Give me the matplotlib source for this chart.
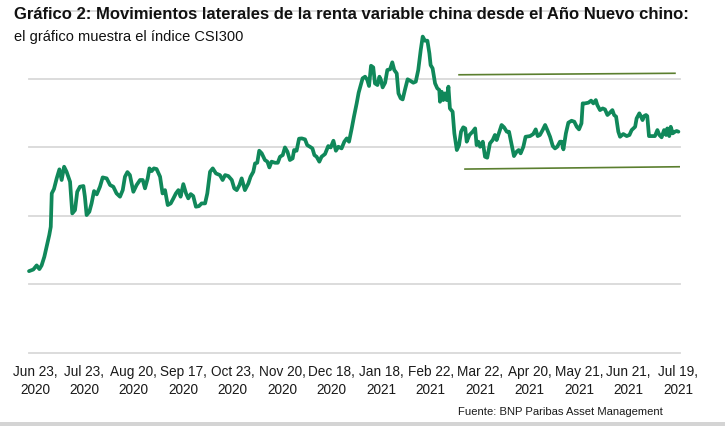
import matplotlib
matplotlib.use("Agg")
import matplotlib.pyplot as plt
from matplotlib.patches import Rectangle

# ---------------- data ----------------
# x: trading-day index since start of series, y: CSI300 level
day_idx = [0.0, 1.75, 3.1, 4.2, 5.1, 6.2, 7.1, 8.2, 8.8, 9.2, 10.1, 11.2, 12.3, 13.2, 14.2,
           15.2, 16.6, 17.5, 18.6, 19.5, 20.6, 22.0, 22.6, 23.3, 24.4, 25.3, 26.3, 27.4, 28.7,
           29.8, 31.4, 32.8, 34.1, 35.4, 36.8, 37.9, 38.8, 39.8, 40.8, 42.2, 43.5, 44.9, 46.0,
           46.9, 48.0, 48.7, 49.6, 50.5, 51.6, 53.0, 54.0, 55.0, 56.1, 57.3, 58.4, 59.4, 60.4,
           61.3, 62.4, 63.5, 64.4, 65.4, 66.4, 67.5, 68.7, 69.8, 71.2, 72.1, 73.2, 74.3, 75.6,
           77.2, 78.3, 79.3, 80.6, 82.0, 83.0, 84.0, 85.1, 86.0, 87.3, 88.7, 89.6, 90.7, 91.4,
           92.3, 93.1, 94.1, 95.4, 96.4, 97.2, 98.1, 99.5, 100.6, 101.5, 102.6, 103.5, 104.5,
           105.5, 106.6, 107.2, 108.2, 109.2, 110.3, 111.6, 112.5, 113.6, 114.6, 115.4, 116.3,
           117.4, 118.3, 119.7, 121.0, 122.0, 123.1, 124.1, 125.1, 126.4, 127.5, 128.5, 129.4,
           130.5, 131.4, 132.5, 133.3, 134.9, 135.9, 136.8, 137.5, 138.3, 139.2, 139.9, 140.9,
           141.7, 142.3, 143.0, 144.0, 144.9, 146.0, 146.9, 147.7, 148.7, 149.4, 150.3, 151.1,
           152.0, 153.1, 154.1, 155.4, 156.4, 157.4, 158.4, 159.2, 160.1, 161.1, 161.9, 162.4,
           163.2, 164.2, 165.1, 165.9, 166.2, 166.9, 167.5, 168.2, 168.9, 169.6, 170.2, 171.3,
           172.0, 173.0, 173.9, 174.7, 175.6, 176.4, 177.0, 178.1, 179.4, 180.4, 181.0, 181.7,
           182.4, 183.5, 184.4, 185.3, 186.4, 187.5, 188.4, 189.1, 190.2, 191.1, 192.1, 193.2,
           194.1, 195.2, 196.1, 197.2, 198.0, 198.8, 199.9, 200.8, 202.6, 203.9, 204.9, 205.7,
           206.6, 207.7, 208.7, 209.6, 210.7, 211.8, 212.7, 213.6, 214.7, 215.4, 216.1, 217.1,
           218.1, 219.4, 220.5, 221.5, 222.4, 223.4, 223.9, 224.8, 226.2, 227.3, 228.2, 229.2,
           229.8, 230.9, 232.0, 232.9, 233.9, 234.9, 235.9, 236.6, 237.4, 238.3, 239.0, 240.3,
           241.7, 242.8, 243.7, 245.1, 245.7, 246.8, 247.5, 248.1, 248.7, 249.5, 250.0, 250.7,
           251.8, 253.1, 254.1, 254.9, 255.8, 256.8, 257.6, 258.1, 258.9, 259.5, 260.3, 261.2,
           261.9, 262.6]
csi300 = [4096, 4108, 4138, 4111, 4138, 4201, 4274, 4360, 4420, 4664, 4696, 4774, 4840, 4762, 4859,
          4822, 4749, 4518, 4542, 4676, 4713, 4718, 4640, 4506, 4530, 4591, 4681, 4657, 4713,
          4781, 4774, 4725, 4713, 4664, 4640, 4688, 4786, 4820, 4798, 4676, 4725, 4762, 4762,
          4701, 4774, 4847, 4827, 4847, 4842, 4786, 4664, 4688, 4579, 4591, 4628, 4664, 4688,
          4640, 4732, 4664, 4628, 4659, 4645, 4567, 4571, 4591, 4591, 4664, 4822, 4847, 4810,
          4798, 4762, 4798, 4791, 4762, 4701, 4688, 4725, 4774, 4688, 4737, 4786, 4822, 4883,
          4888, 4976, 4957, 4908, 4896, 4854, 4896, 4888, 4888, 4932, 4944, 5000, 4969,
          4908, 4920, 4981, 4976, 5064, 5066, 5059, 5017, 5005, 4993, 4944, 4932,
          4896, 4932, 4952, 5010, 5000, 5049, 4976, 5005, 4993, 5042, 5066, 5042,
          5139, 5225, 5322, 5400, 5505, 5517, 5493, 5449, 5597, 5585, 5468, 5456,
          5517, 5493, 5439, 5473, 5566, 5571, 5622, 5566, 5541, 5395, 5359, 5351,
          5420, 5498, 5488, 5473, 5481, 5566, 5712, 5810, 5780, 5780, 5688, 5602,
          5578, 5468, 5432, 5420, 5334, 5407, 5346, 5395, 5346, 5444, 5285, 5261,
          5103, 4981, 5017, 5115, 5147, 5139, 5042, 5091, 5115, 5139, 5017, 5042,
          5005, 5042, 4932, 4925, 5030, 5054, 5091, 5054, 5115, 5164, 5147, 5115,
          5115, 5017, 4937, 4969, 4981, 4957, 5005, 5078, 5083, 5098, 5132, 5083,
          5091, 5127, 5164, 5127, 5078, 5010, 4993, 5005, 5042, 5042, 4986, 5103,
          5181, 5195, 5188, 5151, 5132, 5176, 5322, 5322, 5327, 5342, 5322, 5346,
          5310, 5273, 5285, 5278, 5237, 5254, 5273, 5237, 5225, 5115, 5078, 5098,
          5083, 5091, 5127, 5151, 5212, 5249, 5225, 5200, 5229, 5237, 5229, 5083,
          5083, 5083, 5127, 5091, 5074, 5127, 5091, 5139, 5083, 5151, 5103, 5115,
          5120, 5115]

# channel lines (start/end index, start/end level)
upper_x = [173.9, 261.2]
upper_y = [5531, 5542]
lower_x = [176.3, 263.6]
lower_y = [4842, 4859]

tick_pos = [2.4 + 20 * k for k in range(14)]
tick_labels = ["Jun 23,\n2020", "Jul 23,\n2020", "Aug 20,\n2020", "Sep 17,\n2020",
               "Oct 23,\n2020", "Nov 20,\n2020", "Dec 18,\n2020", "Jan 18,\n2021",
               "Feb 22,\n2021", "Mar 22,\n2021", "Apr 20,\n2021", "May 21,\n2021",
               "Jun 21,\n2021", "Jul 19,\n2021"]
grid_levels = [3500, 4000, 4500, 5000, 5500, 6000]

title = "Gráfico 2: Movimientos laterales de la renta variable china desde el Año Nuevo chino:"
subtitle = "el gráfico muestra el índice CSI300"
source = "Fuente: BNP Paribas Asset Management"

# ---------------- figure ----------------
FONT = ["Liberation Sans Narrow", "Liberation Sans", "DejaVu Sans"]
plt.rcParams["font.family"] = FONT

W, H = 725, 426
fig = plt.figure(figsize=(W / 100, H / 100), dpi=100)
fig.patch.set_facecolor("white")

left, right = 29, 680
bottom, top = 352.7, 10.6
ax = fig.add_axes([left / W, 1 - bottom / H, (right - left) / W, (bottom - top) / H])
ax.set_xlim(0, (right - left) / 2.473)
ax.set_ylim(3500, 6000)
ax.set_facecolor("none")
for s in ax.spines.values():
    s.set_visible(False)

for g in grid_levels:
    ax.axhline(g, color="#d9d9d9", lw=1.3, zorder=1, clip_on=False)

ax.plot(day_idx, csi300, color="#10885a", lw=2.7, solid_joinstyle="round",
        solid_capstyle="round", zorder=3, clip_on=False)
ax.plot(upper_x, upper_y, color="#5b7f2f", lw=1.2, zorder=2)
ax.plot(lower_x, lower_y, color="#5b7f2f", lw=1.2, zorder=2)

ax.set_yticks([])
ax.set_xticks(tick_pos)
ax.set_xticklabels(tick_labels, fontsize=9.8, color="#1a1a1a", linespacing=1.35)
ax.tick_params(axis="x", length=0, pad=9)

fig.text(14 / W, 1 - 7 / H, title, fontsize=12.0, fontweight="bold", color="#111111",
         ha="left", va="top", zorder=10)
fig.text(14 / W, 1 - 30 / H, subtitle, fontsize=10.5, color="#111111", ha="left", va="top")
fig.text(458 / W, 1 - 407 / H, source, fontsize=8.1, color="#1a1a1a", ha="left", va="top")

fig.patches.append(Rectangle((0, 0), 1, 4 / H, transform=fig.transFigure,
                             facecolor="#d4d4d4", edgecolor="none"))

fig.savefig("out.png", dpi=100)
